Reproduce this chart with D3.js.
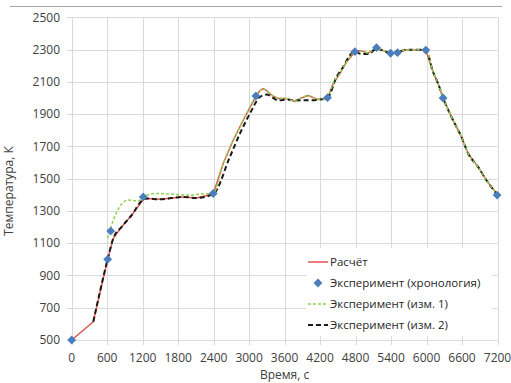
<!DOCTYPE html>
<html>
<head>
<meta charset="utf-8">
<script src="https://cdn.jsdelivr.net/npm/d3@7"></script>
<style>
  html, body { margin: 0; padding: 0; background: #fff; }
  svg { display: block; font-family: "Open Sans", "DejaVu Sans", sans-serif; }
  .grid line { stroke: #d9d9d9; stroke-width: 1; }
  .tick-label { fill: #404040; font-size: 12px; }
  .axis-title { fill: #404040; font-size: 12px; }
  .legend text { fill: #262626; font-size: 11.5px; }
</style>
</head>
<body>
<svg id="chart" width="511" height="383"></svg>
<script>
// Расчёт
const calcTime = [0, 365, 608, 703, 845, 1014, 1210, 1267, 1492, 1886, 2112, 2393, 2562, 2731, 2900, 3115, 3180, 3238, 3300, 3380, 3492, 3634, 3774, 3858, 3999, 4168, 4326, 4421, 4534, 4647, 4788, 4850, 4901, 5013, 5154, 5280, 5391, 5509, 5661, 5886, 5988, 6111, 6196, 6280, 6422, 6591, 6703, 6872, 7013, 7200];
const calcTemp = [500, 613, 1000, 1130, 1201, 1274, 1371, 1377, 1372, 1387, 1380, 1405, 1594, 1738, 1862, 2010, 2045, 2058, 2045, 2017, 1996, 1996, 1978, 1996, 2015, 1990, 2000, 2089, 2151, 2223, 2285, 2293, 2291, 2278, 2310, 2292, 2276, 2284, 2299, 2299, 2298, 2161, 2089, 2000, 1882, 1758, 1656, 1573, 1490, 1400];

// Эксперимент (изм. 1)
const exp1Time = [608, 700, 957, 1125, 1210, 1436, 1661, 1999, 2200, 2393, 2562, 2731, 2900, 3115, 3238, 3380, 3492, 3634, 3774, 3858, 3999, 4168, 4326, 4421, 4534, 4647, 4788, 4901, 5013, 5154, 5280, 5391, 5509, 5661, 5886, 5988, 6111, 6196, 6280, 6422, 6591, 6703, 6872, 7013, 7200];
const exp1Temp = [1130, 1240, 1367, 1362, 1387, 1408, 1404, 1398, 1405, 1408, 1594, 1738, 1862, 2010, 2058, 2017, 1996, 1996, 1978, 1996, 2015, 1990, 2000, 2089, 2151, 2223, 2285, 2291, 2278, 2310, 2292, 2276, 2284, 2299, 2299, 2298, 2161, 2089, 2000, 1882, 1758, 1656, 1573, 1490, 1400];

// Эксперимент (изм. 2)
const exp2Time = [365, 608, 703, 845, 1014, 1210, 1267, 1492, 1886, 2112, 2393, 2675, 2844, 3013, 3182, 3295, 3492, 3634, 3800, 3999, 4196, 4326, 4478, 4590, 4703, 4788, 4901, 5013, 5154, 5280, 5391, 5509, 5661, 5886, 5988, 6111, 6196, 6280, 6422, 6591, 6703, 6872, 7013, 7200];
const exp2Temp = [613, 1000, 1130, 1201, 1274, 1371, 1377, 1372, 1387, 1380, 1405, 1635, 1779, 1903, 2006, 2021, 1986, 1990, 1985, 1986, 1990, 2000, 2130, 2192, 2264, 2288, 2272, 2272, 2305, 2292, 2276, 2284, 2299, 2299, 2298, 2161, 2089, 2000, 1882, 1758, 1656, 1573, 1490, 1400];

// Эксперимент (хронология)
const chronTime = [0, 608, 659, 1210, 2393, 3115, 4326, 4788, 5154, 5391, 5509, 5988, 6280, 7193];
const chronTemp = [500, 1000, 1175, 1387, 1408, 2012, 2002, 2287, 2312, 2277, 2281, 2297, 2000, 1398];

const xTicks = d3.range(0, 7201, 600);
const yTicks = d3.range(500, 2501, 200);

const legendLabels = ['Расчёт', 'Эксперимент (хронология)', 'Эксперимент (изм. 1)', 'Эксперимент (изм. 2)'];

const plot = { left: 71.7, right: 497.5, top: 17.3, bottom: 340 };

const svg = d3.select('#chart');

const x = d3.scaleLinear().domain([0, 7200]).range([plot.left, plot.right]);
const y = d3.scaleLinear().domain([500, 2500]).range([plot.bottom, plot.top]);

// top border of the chart frame
svg.append('line')
  .attr('x1', 10).attr('x2', 502)
  .attr('y1', 6.5).attr('y2', 6.5)
  .attr('stroke', '#a6a6a6').attr('stroke-width', 1);

// Grid (with small outer ticks)
const grid = svg.append('g').attr('class', 'grid');
grid.selectAll('.vx')
  .data(xTicks)
  .enter().append('line')
  .attr('x1', d => Math.round(x(d)) + 0.5)
  .attr('x2', d => Math.round(x(d)) + 0.5)
  .attr('y1', plot.top)
  .attr('y2', plot.bottom + 5);
grid.selectAll('.hy')
  .data(yTicks)
  .enter().append('line')
  .attr('x1', plot.left - 5)
  .attr('x2', plot.right)
  .attr('y1', d => Math.round(y(d)) + 0.5)
  .attr('y2', d => Math.round(y(d)) + 0.5);

// Tick labels
svg.append('g').selectAll('text')
  .data(xTicks)
  .enter().append('text')
  .attr('class', 'tick-label')
  .attr('x', d => x(d))
  .attr('y', 362)
  .attr('text-anchor', 'middle')
  .text(d => d);

svg.append('g').selectAll('text')
  .data(yTicks)
  .enter().append('text')
  .attr('class', 'tick-label')
  .attr('x', 60)
  .attr('y', d => y(d))
  .attr('dy', '0.35em')
  .attr('text-anchor', 'end')
  .text(d => d);

// Axis titles
svg.append('text')
  .attr('class', 'axis-title')
  .attr('x', (plot.left + plot.right) / 2)
  .attr('y', 379)
  .attr('text-anchor', 'middle')
  .text('Время, с');

svg.append('text')
  .attr('class', 'axis-title')
  .attr('transform', 'translate(13,191) rotate(-90)')
  .attr('text-anchor', 'middle')
  .text('Температура, К');

// Lines: calculation is a plain polyline, measurements are smoothed
const calcLine = d3.line()
  .x(d => x(d[0]))
  .y(d => y(d[1]));

const smoothLine = d3.line()
  .x(d => x(d[0]))
  .y(d => y(d[1]))
  .curve(d3.curveMonotoneX);

const calc = d3.zip(calcTime, calcTemp);
const exp1 = d3.zip(exp1Time, exp1Temp);
const exp2 = d3.zip(exp2Time, exp2Temp);
const chron = d3.zip(chronTime, chronTemp);

svg.append('path')
  .datum(calc)
  .attr('d', calcLine)
  .attr('fill', 'none')
  .attr('stroke', '#e0544e')
  .attr('stroke-width', 1.5)
  .attr('stroke-linejoin', 'round');

svg.append('path')
  .datum(exp2)
  .attr('d', smoothLine)
  .attr('fill', 'none')
  .attr('stroke', '#1a1a1a')
  .attr('stroke-width', 2)
  .attr('stroke-dasharray', '5 3');

svg.append('path')
  .datum(exp1)
  .attr('d', smoothLine)
  .attr('fill', 'none')
  .attr('stroke', '#92d050')
  .attr('stroke-width', 1.5)
  .attr('stroke-dasharray', '3 2');

const diamond = d3.symbol().type(d3.symbolDiamond2).size(50);

svg.append('g').selectAll('path')
  .data(chron)
  .enter().append('path')
  .attr('d', diamond)
  .attr('transform', d => `translate(${x(d[0])},${y(d[1])})`)
  .attr('fill', '#4a7ebb');

// Legend
const legend = svg.append('g').attr('class', 'legend');
legend.append('rect')
  .attr('x', 306).attr('y', 248)
  .attr('width', 186).attr('height', 88)
  .attr('fill', '#fff');

const rowY = [262, 283, 304, 325];
const items = legend.selectAll('.item')
  .data(legendLabels)
  .enter().append('g')
  .attr('transform', (d, i) => `translate(0,${rowY[i]})`);

items.append('text')
  .attr('x', 330)
  .attr('dy', '0.35em')
  .text(d => d);

items.filter((d, i) => i === 0).append('line')
  .attr('x1', 308).attr('x2', 328)
  .attr('stroke', '#e0544e').attr('stroke-width', 1.5);
items.filter((d, i) => i === 1).append('path')
  .attr('d', diamond)
  .attr('transform', 'translate(318,0)')
  .attr('fill', '#4a7ebb');
items.filter((d, i) => i === 2).append('line')
  .attr('x1', 308).attr('x2', 328)
  .attr('stroke', '#92d050').attr('stroke-width', 1.5)
  .attr('stroke-dasharray', '3 2');
items.filter((d, i) => i === 3).append('line')
  .attr('x1', 308).attr('x2', 328)
  .attr('stroke', '#1a1a1a').attr('stroke-width', 2)
  .attr('stroke-dasharray', '5 3');
</script>
</body>
</html>
